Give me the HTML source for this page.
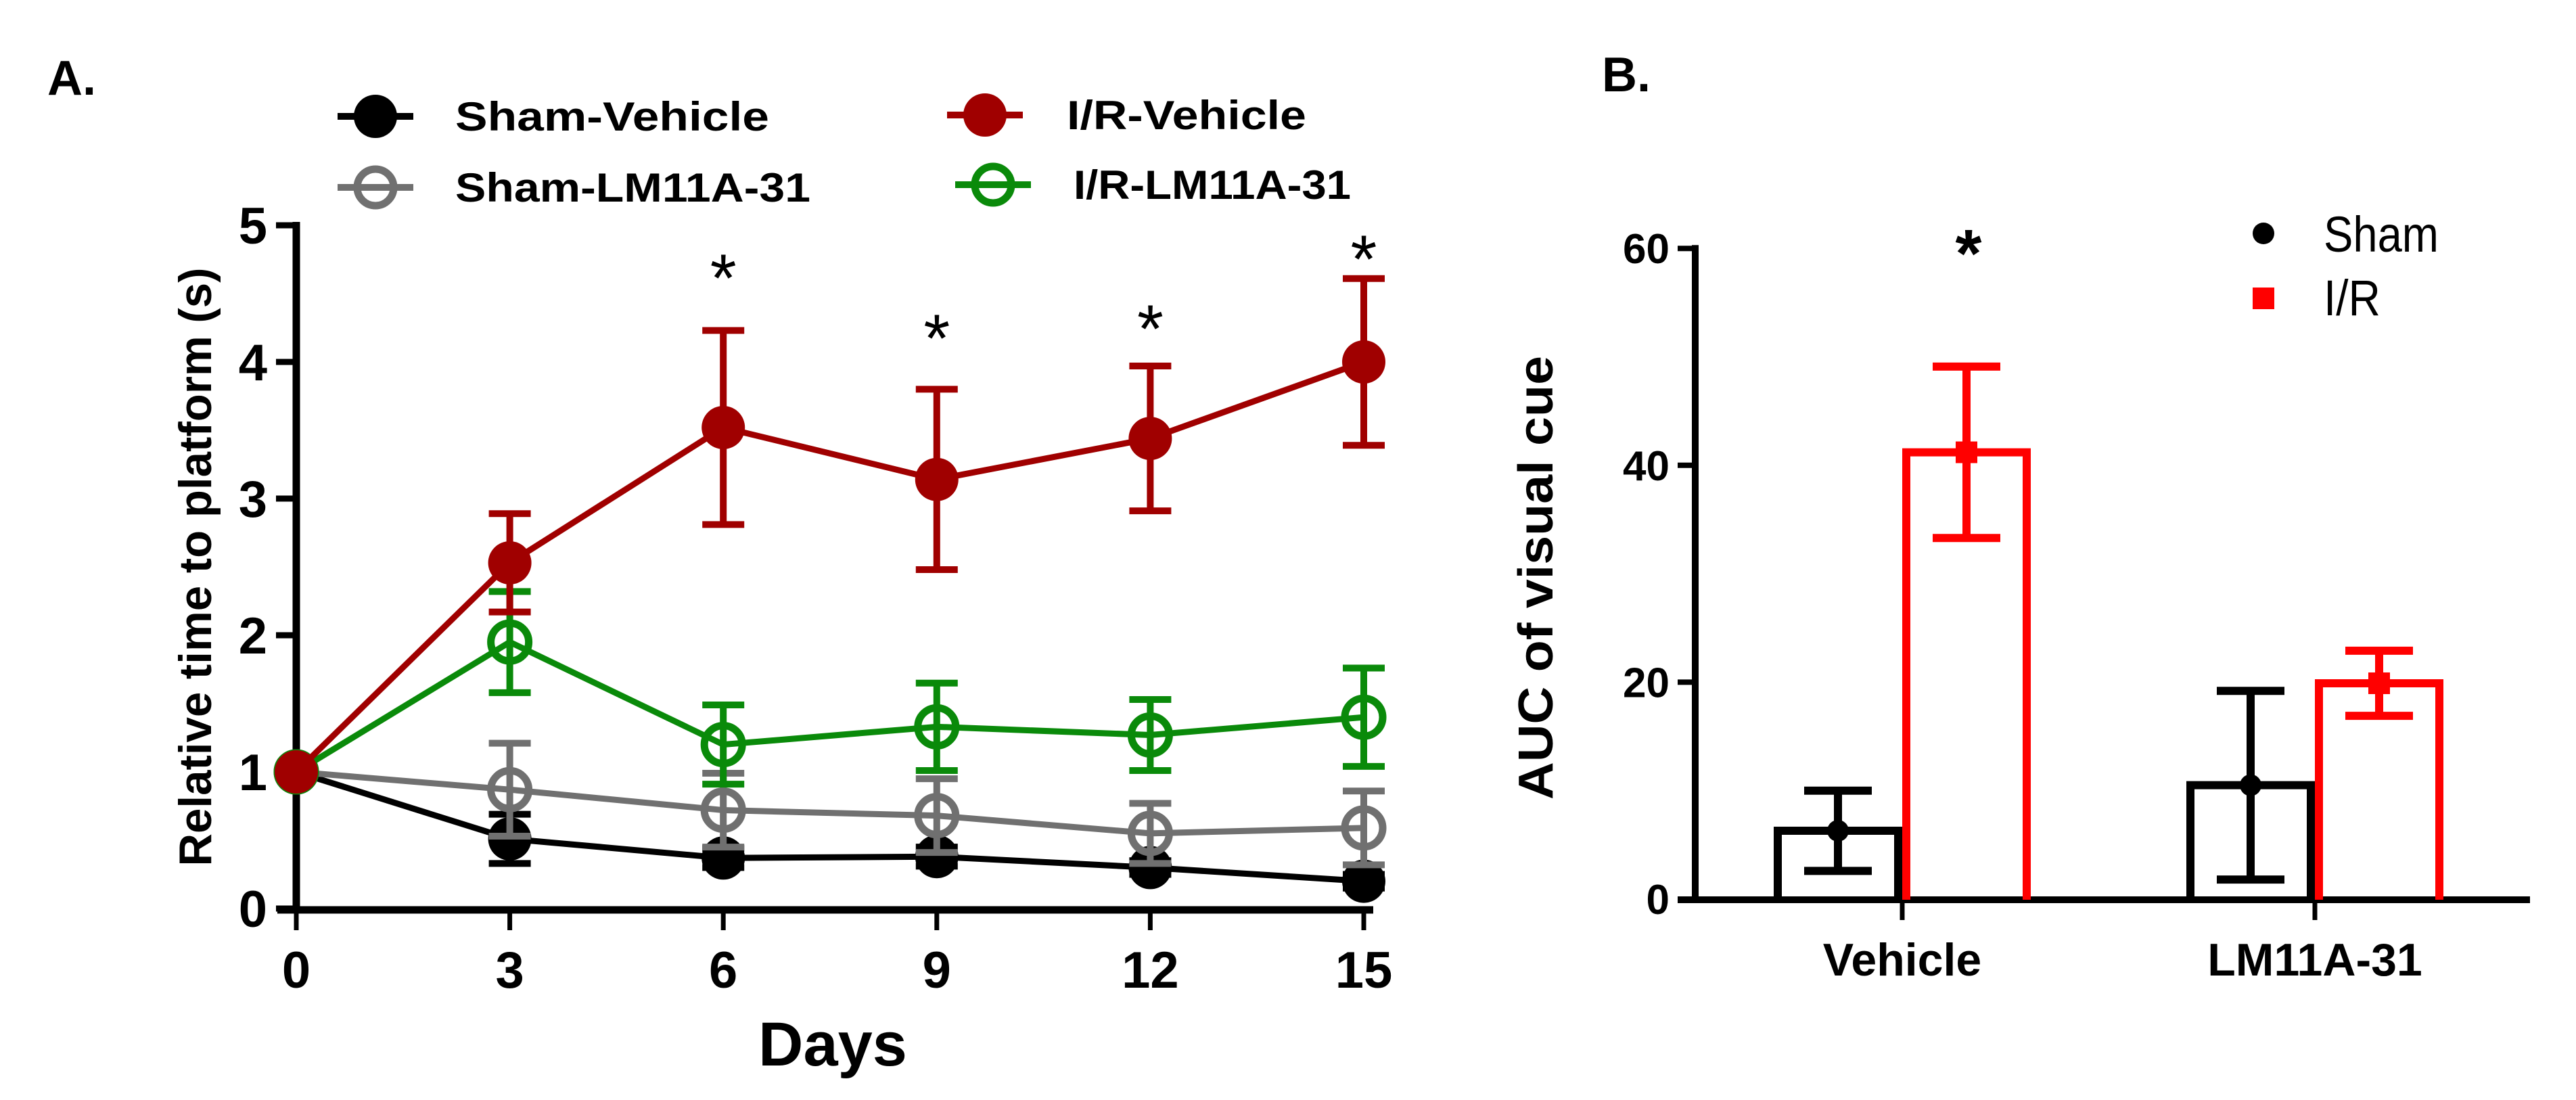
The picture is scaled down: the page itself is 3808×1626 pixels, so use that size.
<!DOCTYPE html>
<html><head><meta charset="utf-8"><style>
html,body{margin:0;padding:0;background:#fff;}
svg{display:block;font-family:"Liberation Sans",Arial,sans-serif;}
</style></head><body>
<svg id="fig" width="3808" height="1626" viewBox="0 0 3808 1626">
<g id="panelA"></g>
<g id="panelB"></g>
</svg>
<script>
// ---------- Panel A data ----------
const days = [0, 3, 6, 9, 12, 15];
const shamVehMean = [1, 0.51, 0.37, 0.38, 0.30, 0.20];
const shamVehErr  = [0, 0.18, 0.07, 0.07, 0.05, 0.05];
const shamLmMean  = [1, 0.87, 0.72, 0.68, 0.55, 0.59];
const shamLmErr   = [0, 0.34, 0.27, 0.27, 0.22, 0.27];
const irVehMean   = [1, 2.53, 3.52, 3.14, 3.44, 4.00];
const irVehErr    = [0, 0.36, 0.71, 0.66, 0.53, 0.61];
const irLmMean    = [1, 1.95, 1.20, 1.33, 1.27, 1.40];
const irLmErr     = [0, 0.37, 0.29, 0.32, 0.26, 0.36];
const starDays    = [6, 9, 12, 15];
const starVals    = [4.70, 4.26, 4.33, 4.84];
const yTicksA     = [0, 1, 2, 3, 4, 5];
const xTicksA     = [0, 3, 6, 9, 12, 15];
// ---------- Panel B data ----------
const groupsB   = ["Vehicle", "LM11A-31"];
const shamAuc   = [6.3, 10.5];
const shamAucErr= [3.7, 8.7];
const irAuc     = [41.2, 19.9];
const irAucErr  = [7.9, 3.0];
const yTicksB   = [0, 20, 40, 60];

const NS = "http://www.w3.org/2000/svg";
function mk(parent, tag, attrs, text){
  const e = document.createElementNS(NS, tag);
  for (const k in attrs) e.setAttribute(k, attrs[k]);
  if (text !== undefined) e.textContent = text;
  parent.appendChild(e);
  return e;
}
const xA = d => 438 + (d / 15) * 1578;
const yA = v => 1343 - v * 202;
const A = document.getElementById('panelA');

let t = mk(A, 'text', {x:70, y:140, 'font-size':72, 'font-weight':'bold'}, 'A.');



let ax = mk(A, 'line', {x1:438, y1:yA(5)-5, x2:438, y2:1350, stroke:'#000', 'stroke-width':11});


ax = mk(A, 'line', {x1:410, y1:1345, x2:2030, y2:1345, stroke:'#000', 'stroke-width':11});


yTicksA.forEach(v => {
  const l = mk(A, 'line', {x1:408, y1:yA(v), x2:438, y2:yA(v), stroke:'#000', 'stroke-width':9});
  
  
  const tx = mk(A, 'text', {x:395, y:yA(v)+27, 'font-size':76, 'font-weight':'bold', 'text-anchor':'end'}, String(v));
  
  
});
xTicksA.forEach(d => {
  const l = mk(A, 'line', {x1:xA(d), y1:1345, x2:xA(d), y2:1375, stroke:'#000', 'stroke-width':7});
  
  
  const tx = mk(A, 'text', {x:xA(d), y:1460, 'font-size':76, 'font-weight':'bold', 'text-anchor':'middle'}, String(d));
  
  
});
t = mk(A, 'text', {x:1231, y:1575, 'font-size':92, 'font-weight':'bold', 'text-anchor':'middle'}, 'Days');


t = mk(A, 'text', {x:0, y:0, 'font-size':68, 'font-weight':'bold', 'text-anchor':'middle', textLength:885, lengthAdjust:'spacingAndGlyphs', transform:'translate(312,838) rotate(-90)'}, 'Relative time to platform (s)');



const series = [
  {name:'sham-vehicle', mean:shamVehMean, err:shamVehErr, color:'#000', fill:'#000'},
  {name:'sham-lm11a-31', mean:shamLmMean, err:shamLmErr, color:'#707070', fill:'#fff'},
  {name:'ir-lm11a-31', mean:irLmMean, err:irLmErr, color:'#0a8a0a', fill:'#fff'},
  {name:'ir-vehicle', mean:irVehMean, err:irVehErr, color:'#a00000', fill:'#a00000'}
];
series.forEach(s => {
  const g = mk(A, 'g', {});
  
  
  days.forEach((d, i) => {
    if (s.err[i] <= 0) return;
    const x = xA(d), y1 = yA(s.mean[i] + s.err[i]), y2 = yA(s.mean[i] - s.err[i]);
    const e = mk(g, 'path', {d:`M${x},${y1}V${y2}M${x-31},${y1}H${x+31}M${x-31},${y2}H${x+31}`, stroke:s.color, 'stroke-width':10, fill:'none'});
    
    
  });
  const pts = days.map((d, i) => xA(d) + ',' + yA(s.mean[i])).join(' ');
  const pl = mk(g, 'polyline', {points:pts, stroke:s.color, 'stroke-width':9, fill:'none'});
  
  
  days.forEach((d, i) => {
    const c = mk(g, 'circle', {cx:xA(d), cy:yA(s.mean[i]), r: s.fill === '#fff' ? 28 : 32, fill: s.fill === '#fff' ? 'none' : s.fill, stroke:s.color, 'stroke-width': s.fill === '#fff' ? 11 : 0});
    
    
  });
});
starDays.forEach((d, i) => {
  const s = mk(A, 'text', {x:xA(d), y:yA(starVals[i]) + 52, 'font-size':100, 'text-anchor':'middle'}, '*');
  
  
});

const legA = [
  {label:'Sham-Vehicle', x:555, y:172, color:'#000', fill:true, tx:673, w:464},
  {label:'Sham-LM11A-31', x:555, y:277, color:'#707070', fill:false, tx:673, w:525},
  {label:'I/R-Vehicle', x:1456, y:170, color:'#a00000', fill:true, tx:1577, w:354},
  {label:'I/R-LM11A-31', x:1468, y:273, color:'#0a8a0a', fill:false, tx:1587, w:410}
];
legA.forEach(l => {
  const g = mk(A, 'g', {});
  
  
  mk(g, 'line', {x1:l.x-56, y1:l.y, x2:l.x+56, y2:l.y, stroke:l.color, 'stroke-width':10});
  mk(g, 'circle', {cx:l.x, cy:l.y, r:l.fill?32:27, fill:l.fill?l.color:'none', stroke:l.color, 'stroke-width':l.fill?0:11});
  mk(g, 'text', {x:l.tx, y:l.y+21, 'font-size':60, 'font-weight':'bold', textLength:l.w, lengthAdjust:'spacingAndGlyphs'}, l.label);
});

// ---------- Panel B ----------
const B = document.getElementById('panelB');
const yB = v => 1329 - v * 16.03;
const groupX = [2812, 3422];
const barW = 190;
t = mk(B, 'text', {x:2368, y:135, 'font-size':72, 'font-weight':'bold'}, 'B.');


ax = mk(B, 'line', {x1:2506, y1:yB(60)-5, x2:2506, y2:1335, stroke:'#000', 'stroke-width':10});


ax = mk(B, 'line', {x1:2480, y1:1330, x2:3740, y2:1330, stroke:'#000', 'stroke-width':10});


yTicksB.forEach(v => {
  const l = mk(B, 'line', {x1:2480, y1:yB(v), x2:2506, y2:yB(v), stroke:'#000', 'stroke-width':8});
  
  
  const tx = mk(B, 'text', {x:2468, y:yB(v)+22, 'font-size':62, 'font-weight':'bold', 'text-anchor':'end'}, String(v));
  
  
});
groupsB.forEach((gname, i) => {
  const l = mk(B, 'line', {x1:groupX[i], y1:1330, x2:groupX[i], y2:1360, stroke:'#000', 'stroke-width':7});
  
  
  const tx = mk(B, 'text', {x:groupX[i], y:1442, 'font-size':68, 'font-weight':'bold', 'text-anchor':'middle'}, gname);
  
  
});
t = mk(B, 'text', {x:0, y:0, 'font-size':72, 'font-weight':'bold', 'text-anchor':'middle', textLength:656, lengthAdjust:'spacingAndGlyphs', transform:'translate(2295,854) rotate(-90)'}, 'AUC of visual cue');



function drawBar(cx, val, err, color, name, marker){
  const g = mk(B, 'g', {});
  
  
  const x0 = cx - barW/2 + 6, x1 = cx + barW/2 - 6, yt = yB(val);
  mk(g, 'path', {d:`M${x0},1330V${yt}H${x1}V1330`, stroke:color, 'stroke-width':12, fill:'none'});
  const ya = yB(val + err), yb = yB(val - err);
  mk(g, 'path', {d:`M${cx},${ya}V${yb}M${cx-50},${ya}H${cx+50}M${cx-50},${yb}H${cx+50}`, stroke:color, 'stroke-width':12, fill:'none'});
  if (marker === 'circle') mk(g, 'circle', {cx:cx, cy:yt, r:16, fill:color});
  else mk(g, 'rect', {x:cx-16, y:yt-16, width:32, height:32, fill:color});
}
groupsB.forEach((gname, i) => {
  drawBar(groupX[i] - barW/2, shamAuc[i], shamAucErr[i], '#000', 'bar-sham-' + gname.toLowerCase(), 'circle');
  drawBar(groupX[i] + barW/2, irAuc[i], irAucErr[i], '#ff0000', 'bar-ir-' + gname.toLowerCase(), 'square');
});
t = mk(B, 'text', {x:2910, y:yB(61)+58, 'font-size':100, 'font-weight':'bold', 'text-anchor':'middle'}, '*');


let lg = mk(B, 'g', {});


mk(lg, 'circle', {cx:3346, cy:345, r:16, fill:'#000'});
mk(lg, 'text', {x:3435, y:372, 'font-size':74, textLength:170, lengthAdjust:'spacingAndGlyphs'}, 'Sham');
lg = mk(B, 'g', {});


mk(lg, 'rect', {x:3330, y:425, width:32, height:32, fill:'#ff0000'});
mk(lg, 'text', {x:3435, y:466, 'font-size':74, textLength:84, lengthAdjust:'spacingAndGlyphs'}, 'I/R');
</script>
</body></html>
